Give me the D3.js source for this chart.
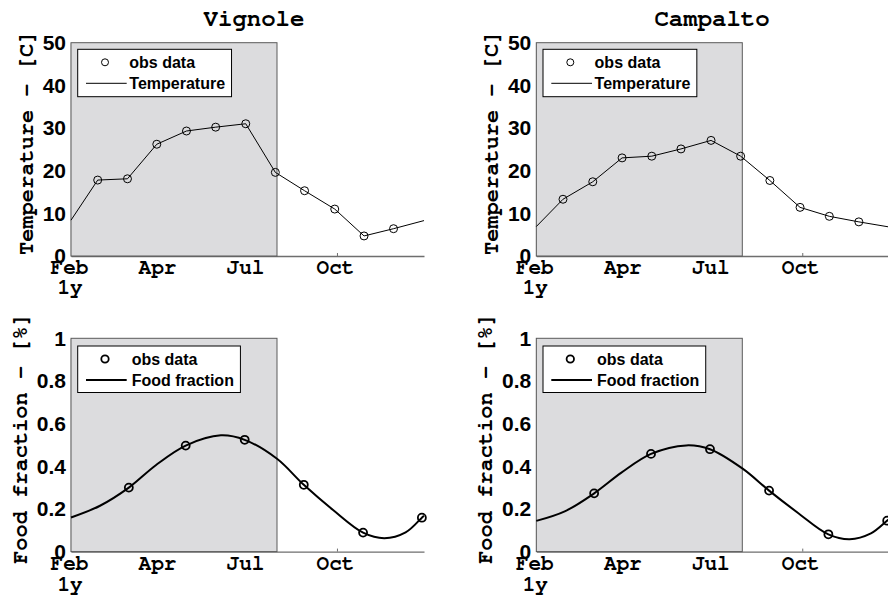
<!DOCTYPE html>
<html>
<head>
<meta charset="utf-8">
<script src="https://cdn.jsdelivr.net/npm/d3@7"></script>
<style>
  body { margin: 0; background: #fff; }
  .mono { font-family: "Nimbus Mono PS", "FreeMono", "Courier New", "Liberation Mono", monospace; font-weight: bold; }
  .sans { font-family: "Liberation Sans", Arial, sans-serif; font-weight: bold; }
</style>
</head>
<body>
<svg id="chart" width="888" height="598"></svg>
<script>
// ---- data (days counted from 1 Feb) ----
var sites = ['Vignole', 'Campalto'];
var monthLabels = ['Feb', 'Apr', 'Jul', 'Oct'];
var monthTickDays = [0, 91, 182, 275];
var tempTicks = [0, 10, 20, 30, 40, 50];
var foodTicks = [0, 0.2, 0.4, 0.6, 0.8, 1];
var calibEndDay = 213;

var tempObsDays = [27.6, 58.4, 88.7, 119.4, 149.6, 180.7, 211.3, 241.5, 272.7, 303, 333.5];
var vignoleTempObs = [17.8, 18.1, 26.2, 29.3, 30.2, 31.0, 19.6, 15.3, 11.0, 4.7, 6.4];
var campaltoTempObs = [13.3, 17.4, 23.0, 23.4, 25.1, 27.1, 23.4, 17.7, 11.4, 9.3, 8.0];
var vignoleTempEnds = [8.4, 8.3];
var campaltoTempEnds = [6.9, 6.8];

var foodObsDays = [59.8, 118.6, 179.6, 240.7, 302, 362.8];
var vignoleFoodObs = [0.30, 0.497, 0.524, 0.313, 0.089, 0.159];
var campaltoFoodObs = [0.273, 0.458, 0.48, 0.286, 0.081, 0.145];

var foodCurveDays = [0, 30, 59.8, 88, 118.6, 155, 179.6, 213, 240.7, 271, 302, 324, 346, 362.8, 365];
var vignoleFoodCurve = [0.16, 0.215, 0.30, 0.406, 0.497, 0.545, 0.524, 0.435, 0.313, 0.195, 0.089, 0.063, 0.09, 0.159, 0.168];
var campaltoFoodCurve = [0.144, 0.19, 0.273, 0.37, 0.458, 0.498, 0.48, 0.39, 0.286, 0.18, 0.081, 0.058, 0.085, 0.145, 0.152];

// ---- layout ----
var colX = [71, 536.3], titleX = [254, 712];
var rowY = [42.7, 338.3];
var pw = 353, ph = 213.3;

var svg = d3.select('#chart');

function zip(days, vals) {
  return days.map(function(d, i) { return [d, vals[i]]; });
}

var panels = [
  { col: 0, row: 0, kind: 'temp', obs: zip(tempObsDays, vignoleTempObs),
    line: [[0, vignoleTempEnds[0]]].concat(zip(tempObsDays, vignoleTempObs), [[365, vignoleTempEnds[1]]]) },
  { col: 1, row: 0, kind: 'temp', obs: zip(tempObsDays, campaltoTempObs),
    line: [[0, campaltoTempEnds[0]]].concat(zip(tempObsDays, campaltoTempObs), [[365, campaltoTempEnds[1]]]) },
  { col: 0, row: 1, kind: 'food', obs: zip(foodObsDays, vignoleFoodObs), line: zip(foodCurveDays, vignoleFoodCurve) },
  { col: 1, row: 1, kind: 'food', obs: zip(foodObsDays, campaltoFoodObs), line: zip(foodCurveDays, campaltoFoodCurve) }
];

panels.forEach(function(p) {
  var isTemp = p.kind === 'temp';
  var g = svg.append('g').attr('transform', 'translate(' + colX[p.col] + ',' + rowY[p.row] + ')');

  var x = d3.scaleLinear().domain([0, 365]).range([0, pw]);
  var y = d3.scaleLinear().domain(isTemp ? [0, 50] : [0, 1]).range([ph, 0]);

  // axes first, the calibration box covers them
  var xa = g.append('g').attr('transform', 'translate(0,' + ph + ')')
    .call(d3.axisBottom(x).tickValues(monthTickDays).tickSizeInner(-3).tickSizeOuter(0)
      .tickFormat(function(d, i) { return monthLabels[i]; }));
  xa.select('.domain').attr('stroke', '#6e6e6e').attr('stroke-width', 1.3);
  xa.selectAll('.tick line').attr('stroke', '#6e6e6e');
  xa.selectAll('.tick text').attr('class', 'mono').attr('font-size', 21).attr('fill', '#000')
    .attr('y', isTemp ? 17.5 : 18.5).attr('dy', 0).attr('dx', -2);
  xa.append('text').attr('class', 'mono').attr('font-size', 21).attr('fill', '#000')
    .attr('text-anchor', 'middle').attr('x', x(0) - 1).attr('y', isTemp ? 38 : 39).text('1y');

  var ya = g.append('g')
    .call(d3.axisLeft(y).tickValues(isTemp ? tempTicks : foodTicks).tickSize(0).tickPadding(5)
      .tickFormat(function(d) { return String(+d.toFixed(1)); }));
  ya.select('.domain').attr('stroke', '#6e6e6e').attr('stroke-width', 1.3);
  ya.selectAll('.tick text').attr('class', 'sans').attr('font-size', 21).attr('fill', '#000');

  // calibration period shading
  g.append('rect')
    .attr('x', x(0)).attr('y', y.range()[1])
    .attr('width', x(calibEndDay) - x(0)).attr('height', ph)
    .attr('fill', '#dcdcde').attr('stroke', '#5a5a5a').attr('stroke-width', 1);

  var lw = isTemp ? 1 : 2;
  var line = d3.line()
    .x(function(d) { return x(d[0]); })
    .y(function(d) { return y(d[1]); })
    .curve(isTemp ? d3.curveLinear : d3.curveCatmullRom.alpha(0.5));

  g.append('path').datum(p.line)
    .attr('d', line).attr('fill', 'none').attr('stroke', '#000').attr('stroke-width', lw);

  g.selectAll('circle.obs').data(p.obs).enter().append('circle')
    .attr('class', 'obs')
    .attr('cx', function(d) { return x(d[0]); })
    .attr('cy', function(d) { return y(d[1]); })
    .attr('r', 4).attr('fill', 'none').attr('stroke', '#000').attr('stroke-width', isTemp ? 1 : 1.8);

  // legend
  var lg = g.append('g').attr('transform', 'translate(6.7,' + (isTemp ? 6.6 : 7.7) + ')');
  var box = lg.append('rect').attr('fill', '#fff').attr('stroke', '#000').attr('stroke-width', 1);
  lg.append('circle').attr('cx', 27.3).attr('cy', 13).attr('r', isTemp ? 3.5 : 3.7)
    .attr('fill', 'none').attr('stroke', '#000').attr('stroke-width', isTemp ? 1 : 1.8);
  lg.append('line').attr('x1', 8.3).attr('x2', 49).attr('y1', 34).attr('y2', 34)
    .attr('stroke', '#000').attr('stroke-width', lw);
  var t1 = lg.append('text').attr('class', 'sans').attr('font-size', 16)
    .attr('x', isTemp ? 51.6 : 54).attr('y', 13).attr('dy', '.36em').text('obs data');
  var t2 = lg.append('text').attr('class', 'sans').attr('font-size', 16)
    .attr('x', isTemp ? 51.6 : 54).attr('y', 34).attr('dy', '.36em')
    .text(isTemp ? 'Temperature' : 'Food fraction');
  var wText = Math.max(t1.node().getComputedTextLength(), t2.node().getComputedTextLength());
  box.attr('x', 0).attr('y', 0).attr('width', (isTemp ? 51.6 : 54) + wText + 6.5).attr('height', isTemp ? 47.4 : 46.5);

  // y label
  g.append('text').attr('class', 'mono').attr('font-size', 22).attr('text-anchor', 'middle')
    .attr('transform', 'translate(' + (isTemp ? -38.5 : -44.5) + ',' + (ph / 2 - 6.5) + ') rotate(-90)')
    .text(isTemp ? 'Temperature - [C]' : 'Food fraction - [%]');

  // title
  if (isTemp) {
    svg.append('text').attr('class', 'mono').attr('font-size', 24).attr('text-anchor', 'middle')
      .attr('x', titleX[p.col]).attr('y', 26).text(sites[p.col]);
  }
});
</script>
</body>
</html>
